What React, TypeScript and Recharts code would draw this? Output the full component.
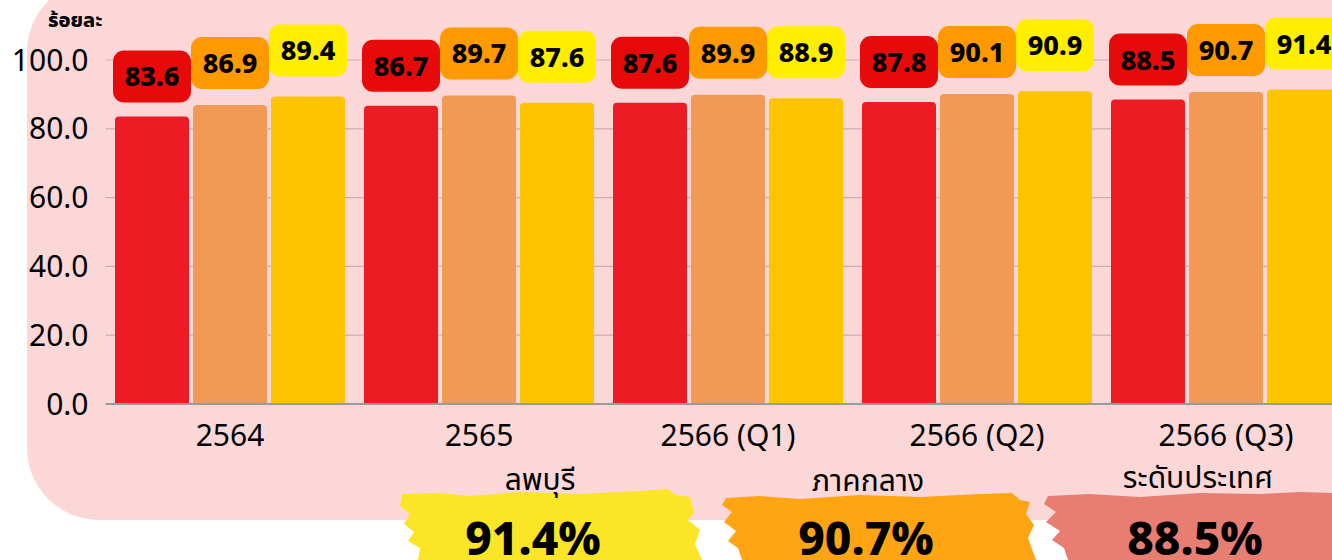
import React from 'react';
import { BarChart, Bar, XAxis, YAxis, CartesianGrid, LabelList } from 'recharts';

const categories = ['2564', '2565', '2566 (Q1)', '2566 (Q2)', '2566 (Q3)'];
const nationalValues = [83.6, 86.7, 87.6, 87.8, 88.5];
const centralValues = [86.9, 89.7, 89.9, 90.1, 90.7];
const lopburiValues = [89.4, 87.6, 88.9, 90.9, 91.4];
const yTicks = [0, 20, 40, 60, 80, 100];

const data = categories.map((name, i) => ({
  name,
  national: nationalValues[i],
  central: centralValues[i],
  lopburi: lopburiValues[i],
}));

const FONT = '"Noto Sans Thai", "Noto Sans", Roboto, sans-serif';

const makeLabel = (fill: string, gap: number) => (props: any) => {
  const { x, y, width, value } = props;
  const w = 78;
  const h = 52;
  const cx = x + width / 2;
  const top = y - gap - h;
  return (
    <g>
      <rect x={cx - w / 2} y={top} width={w} height={h} rx={11} fill={fill} />
      <text
        x={cx}
        y={top + h / 2 + 10}
        textAnchor="middle"
        fontFamily={FONT}
        fontWeight={800}
        fontSize={27}
        fill="#000"
      >
        {Number(value).toFixed(1)}
      </text>
    </g>
  );
};

// brush-stroke backdrops under the summary numbers
const Brush = ({ d, fill }: { d: string; fill: string }) => <path d={d} fill={fill} />;

export default function App() {
  return (
    <div style={{ position: 'relative', width: 1332, height: 560, overflow: 'hidden', background: '#fff' }}>
      <style>{'body{margin:0;overflow:hidden}'}</style>
      <div
        style={{
          position: 'absolute',
          left: 27,
          top: -20,
          width: 1400,
          height: 540,
          borderRadius: 72,
          background: '#FCD7D7',
        }}
      />
      <div style={{ position: 'absolute', left: 0, top: 0 }}>
        <BarChart
          width={1360}
          height={560}
          data={data}
          margin={{ top: 60, right: 9.5, left: 0, bottom: 126 }}
          barGap={4}
          barCategoryGap={9.5}
        >
          <CartesianGrid vertical={false} stroke="#C9AFB0" strokeWidth={1.2} />
          <XAxis
            dataKey="name"
            axisLine={{ stroke: '#9A9A9A', strokeWidth: 2 }}
            tickLine={false}
            height={30}
            tick={{ fill: '#000', fontSize: 30, fontFamily: FONT }}
            dy={13}
            interval={0}
          />
          <YAxis
            domain={[0, 100]}
            ticks={yTicks}
            width={105.5}
            axisLine={false}
            tickLine={false}
            tickFormatter={(v: number) => v.toFixed(1)}
            tick={{ fill: '#000', fontSize: 30, fontFamily: FONT }}
            dx={-9}
          />
          <Bar dataKey="national" fill="#ED1C24" radius={[4, 4, 0, 0]} isAnimationActive={false}>
            <LabelList dataKey="national" content={makeLabel('#E60A0A', 14)} />
          </Bar>
          <Bar dataKey="central" fill="#F19A56" radius={[4, 4, 0, 0]} isAnimationActive={false}>
            <LabelList dataKey="central" content={makeLabel('#FF9900', 16)} />
          </Bar>
          <Bar dataKey="lopburi" fill="#FFC400" radius={[4, 4, 0, 0]} isAnimationActive={false}>
            <LabelList dataKey="lopburi" content={makeLabel('#FFEE00', 20)} />
          </Bar>
        </BarChart>
      </div>
      <svg
        width={1332}
        height={560}
        style={{ position: 'absolute', left: 0, top: 0, pointerEvents: 'none' }}
      >
        <text x={48} y={27} fontFamily={FONT} fontWeight={800} fontSize={20} fill="#000">
          ร้อยละ
        </text>
        <Brush
          fill="#FAE526"
          d="M402 494 L440 493 L470 496 L520 492 L580 494 L640 491 L668 489 L676 495 L690 497 L694 512 L688 520 L700 530 L695 544 L702 560 L418 560 L420 548 L408 541 L414 532 L404 524 L410 514 L400 506 Z"
        />
        <Brush
          fill="#FFA412"
          d="M726 498 L760 496 L800 499 L860 495 L920 497 L980 494 L1012 493 L1020 500 L1030 502 L1026 514 L1034 525 L1028 538 L1036 560 L742 560 L738 548 L728 541 L736 531 L724 522 L732 512 L722 505 Z"
        />
        <Brush
          fill="#E87D72"
          d="M1048 496 L1090 494 L1140 497 L1200 493 L1260 494 L1300 492 L1332 493 L1332 560 L1068 560 L1064 548 L1052 540 L1060 531 L1046 522 L1056 512 L1044 504 Z"
        />
        <g fontFamily={FONT} fill="#000" textAnchor="middle">
          <text x={540} y={490} fontSize={30}>ลพบุรี</text>
          <text x={868} y={491} fontSize={30}>ภาคกลาง</text>
          <text x={1198} y={488} fontSize={30}>ระดับประเทศ</text>
          <text x={533} y={555} fontSize={46} fontWeight={800}>91.4%</text>
          <text x={866} y={555} fontSize={46} fontWeight={800}>90.7%</text>
          <text x={1195} y={555} fontSize={46} fontWeight={800}>88.5%</text>
        </g>
      </svg>
    </div>
  );
}
